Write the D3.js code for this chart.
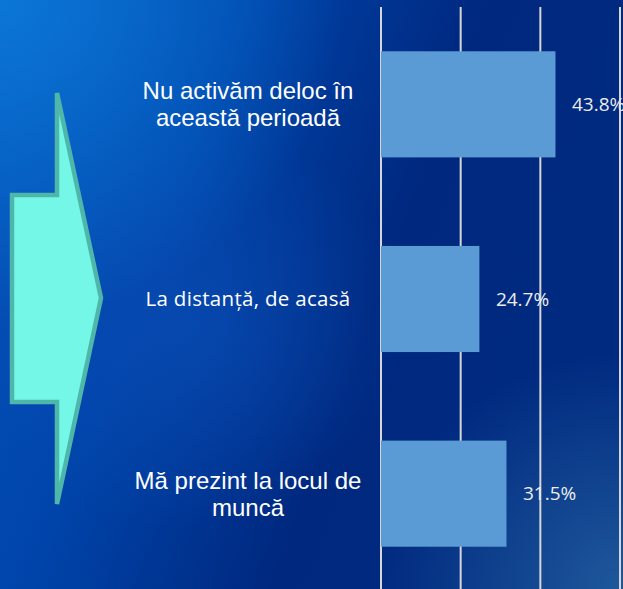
<!DOCTYPE html>
<html lang="ro">
<head>
	<meta charset="UTF-8">
	<title>Activitate</title>
	<script src="https://d3js.org/d3.v7.min.js"></script>
	<style>
		html, body { margin: 0; padding: 0; background: #0040a0; }
		#main { width: 623px; height: 589px; overflow: hidden; }
	</style>
</head>
<body>
	<div id="main"></div>
</body>
<script>
	// data
	var categories = [
		["Nu activăm deloc în", "aceastǎ perioadă"],
		["La distanță, de acasă"],
		["Mă prezint la locul de", "muncă"]
	];
	var values = [0.438, 0.247, 0.315];
	var valueLabels = ["43.8%", "24.7%", "31.5%"];
	var gridTicks = [0, 0.2, 0.4, 0.6];

	var width = 623, height = 589;

	var svg = d3.select("#main")
		.append("svg")
		.attr("width", width)
		.attr("height", height);

	//background gradients
	var defs = svg.append("defs");
	var base = defs.append("linearGradient").attr("id", "bg")
		.attr("x1", 0).attr("y1", 0).attr("x2", 1).attr("y2", 0.35);
	base.append("stop").attr("offset", "0%").attr("stop-color", "#0655bb");
	base.append("stop").attr("offset", "35%").attr("stop-color", "#0044aa");
	base.append("stop").attr("offset", "70%").attr("stop-color", "#00287f");
	base.append("stop").attr("offset", "100%").attr("stop-color", "#002a80");

	var glowTL = defs.append("radialGradient").attr("id", "glowTL")
		.attr("cx", 0).attr("cy", 0).attr("r", 0.55);
	glowTL.append("stop").attr("offset", "0%").attr("stop-color", "#0b78d8").attr("stop-opacity", 0.95);
	glowTL.append("stop").attr("offset", "100%").attr("stop-color", "#0b78d8").attr("stop-opacity", 0);

	var glowBR = defs.append("radialGradient").attr("id", "glowBR")
		.attr("cx", 1).attr("cy", 1).attr("r", 0.4);
	glowBR.append("stop").attr("offset", "0%").attr("stop-color", "#2460a0").attr("stop-opacity", 0.85);
	glowBR.append("stop").attr("offset", "100%").attr("stop-color", "#2460a0").attr("stop-opacity", 0);

	var glowMid = defs.append("radialGradient").attr("id", "glowMid")
		.attr("cx", 0.3).attr("cy", 0.55).attr("r", 0.35);
	glowMid.append("stop").attr("offset", "0%").attr("stop-color", "#0a4db5").attr("stop-opacity", 0.7);
	glowMid.append("stop").attr("offset", "100%").attr("stop-color", "#0a4db5").attr("stop-opacity", 0);

	svg.append("rect").attr("width", width).attr("height", height).attr("fill", "url(#bg)");
	svg.append("rect").attr("width", width).attr("height", height).attr("fill", "url(#glowMid)");
	svg.append("rect").attr("width", width).attr("height", height).attr("fill", "url(#glowTL)");
	svg.append("rect").attr("width", width).attr("height", height).attr("fill", "url(#glowBR)");

	//decorative arrow
	svg.append("path")
		.attr("d", "M57,93 L101,298 L57,504 L57,402 L12,402 L12,195 L57,195 Z")
		.attr("fill", "#75f7e7")
		.attr("stroke", "#4fb7a9")
		.attr("stroke-width", 4.5)
		.attr("stroke-linejoin", "miter");

	var x = d3.scaleLinear().domain([0, 0.6]).range([381, 620]);
	var y = d3.scaleBand()
		.domain(d3.range(categories.length))
		.range([7, 591])
		.paddingInner(0.455)
		.paddingOuter(0.2275);

	//grid lines
	svg.selectAll("line.grid")
		.data(gridTicks)
		.enter()
		.append("line")
		.attr("class", "grid")
		.attr("x1", function(d){ return x(d); })
		.attr("x2", function(d){ return x(d); })
		.attr("y1", 7)
		.attr("y2", height)
		.attr("stroke", "#d6d6d6")
		.attr("stroke-width", 2);

	//bars
	svg.selectAll("rect.bar")
		.data(values)
		.enter()
		.append("rect")
		.attr("class", "bar")
		.attr("x", x(0))
		.attr("y", function(d, i){ return y(i); })
		.attr("width", function(d){ return x(d) - x(0); })
		.attr("height", y.bandwidth())
		.attr("fill", "#5b9bd5");

	//value labels
	svg.selectAll("text.val")
		.data(values)
		.enter()
		.append("text")
		.attr("class", "val")
		.attr("x", function(d){ return x(d) + 16.5; })
		.attr("y", function(d, i){ return y(i) + y.bandwidth() / 2; })
		.attr("dy", "0.35em")
		.attr("font-family", "'Open Sans', sans-serif")
		.attr("font-size", 19)
		.attr("fill", "#ececec")
		.text(function(d, i){ return valueLabels[i]; });

	//category labels
	var lineH = 27;
	var cat = svg.selectAll("text.cat")
		.data(categories)
		.enter()
		.append("text")
		.attr("class", "cat")
		.attr("text-anchor", "middle")
		.attr("fill", "#ffffff")
		.attr("font-family", function(d){ return d.length > 1 ? "'Liberation Sans', Arial, sans-serif" : "'Open Sans', sans-serif"; })
		.attr("font-size", function(d){ return d.length > 1 ? 24 : 20.5; })
		.attr("letter-spacing", function(d){ return d.length > 1 ? 0 : 0.3; });

	cat.each(function(lines, i){
		var cy = y(i) + y.bandwidth() / 2;
		var top = cy - (lines.length - 1) * lineH / 2;
		d3.select(this).selectAll("tspan")
			.data(lines)
			.enter()
			.append("tspan")
			.attr("x", 248)
			.attr("y", function(d, j){ return top + j * lineH; })
			.attr("dy", "0.35em")
			.text(function(d){ return d; });
	});
</script>
</html>
